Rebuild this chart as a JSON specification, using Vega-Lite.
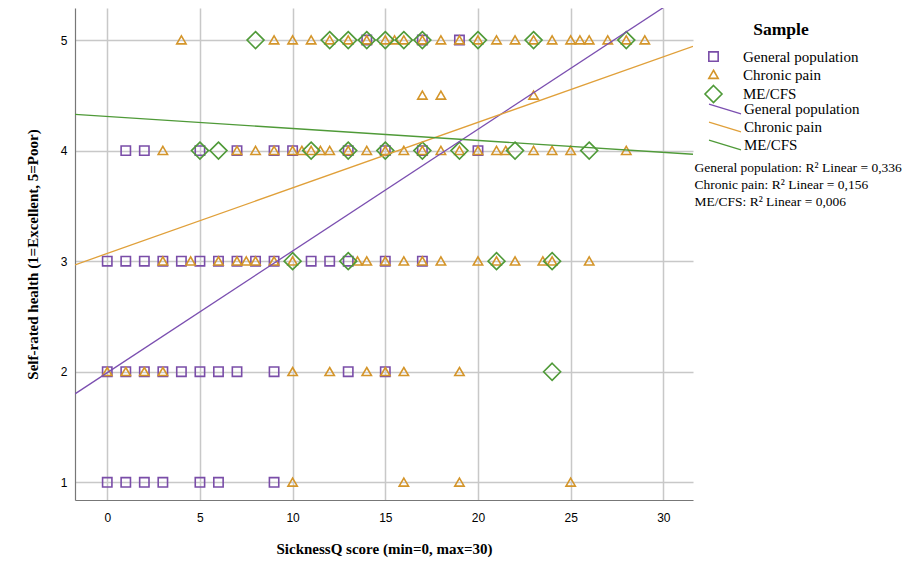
{
  "$schema": "https://vega.github.io/schema/vega-lite/v6.json",
  "width": 618,
  "height": 492,
  "autosize": {"type": "none"},
  "padding": {"left": 75, "top": 8, "right": 219, "bottom": 81},
  "background": "white",
  "config": {
    "view": {"stroke": null},
    "font": "Liberation Serif",
    "axis": {
      "grid": true,
      "gridColor": "#c8c8c8",
      "gridWidth": 1.5,
      "ticks": false,
      "domainColor": "#777777",
      "domainWidth": 1.2,
      "labelFont": "Liberation Sans",
      "labelFontSize": 12,
      "labelColor": "#000000",
      "titleFont": "Liberation Serif",
      "titleFontSize": 15,
      "titleFontWeight": "bold",
      "titleColor": "#000000"
    },
    "legend": {
      "labelFont": "Liberation Serif",
      "labelFontSize": 15,
      "labelColor": "#000000",
      "labelLimit": 300,
      "titleFont": "Liberation Serif",
      "titleFontSize": 17.5,
      "titleFontWeight": "bold",
      "titleColor": "#000000"
    }
  },
  "datasets": {
    "pts": [
      {"sample": "General population", "score": 14, "health": 5},
      {"sample": "General population", "score": 17, "health": 5},
      {"sample": "General population", "score": 19, "health": 5},
      {"sample": "General population", "score": 1, "health": 4},
      {"sample": "General population", "score": 2, "health": 4},
      {"sample": "General population", "score": 5, "health": 4},
      {"sample": "General population", "score": 7, "health": 4},
      {"sample": "General population", "score": 9, "health": 4},
      {"sample": "General population", "score": 10, "health": 4},
      {"sample": "General population", "score": 13, "health": 4},
      {"sample": "General population", "score": 15, "health": 4},
      {"sample": "General population", "score": 17, "health": 4},
      {"sample": "General population", "score": 20, "health": 4},
      {"sample": "General population", "score": 0, "health": 3},
      {"sample": "General population", "score": 1, "health": 3},
      {"sample": "General population", "score": 2, "health": 3},
      {"sample": "General population", "score": 3, "health": 3},
      {"sample": "General population", "score": 4, "health": 3},
      {"sample": "General population", "score": 5, "health": 3},
      {"sample": "General population", "score": 6, "health": 3},
      {"sample": "General population", "score": 7, "health": 3},
      {"sample": "General population", "score": 8, "health": 3},
      {"sample": "General population", "score": 9, "health": 3},
      {"sample": "General population", "score": 11, "health": 3},
      {"sample": "General population", "score": 12, "health": 3},
      {"sample": "General population", "score": 13, "health": 3},
      {"sample": "General population", "score": 15, "health": 3},
      {"sample": "General population", "score": 17, "health": 3},
      {"sample": "General population", "score": 0, "health": 2},
      {"sample": "General population", "score": 1, "health": 2},
      {"sample": "General population", "score": 2, "health": 2},
      {"sample": "General population", "score": 3, "health": 2},
      {"sample": "General population", "score": 4, "health": 2},
      {"sample": "General population", "score": 5, "health": 2},
      {"sample": "General population", "score": 6, "health": 2},
      {"sample": "General population", "score": 7, "health": 2},
      {"sample": "General population", "score": 9, "health": 2},
      {"sample": "General population", "score": 13, "health": 2},
      {"sample": "General population", "score": 15, "health": 2},
      {"sample": "General population", "score": 0, "health": 1},
      {"sample": "General population", "score": 1, "health": 1},
      {"sample": "General population", "score": 2, "health": 1},
      {"sample": "General population", "score": 3, "health": 1},
      {"sample": "General population", "score": 5, "health": 1},
      {"sample": "General population", "score": 6, "health": 1},
      {"sample": "General population", "score": 9, "health": 1},
      {"sample": "Chronic pain", "score": 4, "health": 5},
      {"sample": "Chronic pain", "score": 9, "health": 5},
      {"sample": "Chronic pain", "score": 10, "health": 5},
      {"sample": "Chronic pain", "score": 11, "health": 5},
      {"sample": "Chronic pain", "score": 12, "health": 5},
      {"sample": "Chronic pain", "score": 13, "health": 5},
      {"sample": "Chronic pain", "score": 14, "health": 5},
      {"sample": "Chronic pain", "score": 15, "health": 5},
      {"sample": "Chronic pain", "score": 15.5, "health": 5},
      {"sample": "Chronic pain", "score": 16, "health": 5},
      {"sample": "Chronic pain", "score": 17, "health": 5},
      {"sample": "Chronic pain", "score": 18, "health": 5},
      {"sample": "Chronic pain", "score": 19, "health": 5},
      {"sample": "Chronic pain", "score": 20, "health": 5},
      {"sample": "Chronic pain", "score": 21, "health": 5},
      {"sample": "Chronic pain", "score": 22, "health": 5},
      {"sample": "Chronic pain", "score": 23, "health": 5},
      {"sample": "Chronic pain", "score": 24, "health": 5},
      {"sample": "Chronic pain", "score": 25, "health": 5},
      {"sample": "Chronic pain", "score": 25.5, "health": 5},
      {"sample": "Chronic pain", "score": 26, "health": 5},
      {"sample": "Chronic pain", "score": 27, "health": 5},
      {"sample": "Chronic pain", "score": 28, "health": 5},
      {"sample": "Chronic pain", "score": 29, "health": 5},
      {"sample": "Chronic pain", "score": 17, "health": 4.5},
      {"sample": "Chronic pain", "score": 18, "health": 4.5},
      {"sample": "Chronic pain", "score": 23, "health": 4.5},
      {"sample": "Chronic pain", "score": 3, "health": 4},
      {"sample": "Chronic pain", "score": 7, "health": 4},
      {"sample": "Chronic pain", "score": 8, "health": 4},
      {"sample": "Chronic pain", "score": 9, "health": 4},
      {"sample": "Chronic pain", "score": 10, "health": 4},
      {"sample": "Chronic pain", "score": 10.5, "health": 4},
      {"sample": "Chronic pain", "score": 11, "health": 4},
      {"sample": "Chronic pain", "score": 11.5, "health": 4},
      {"sample": "Chronic pain", "score": 12, "health": 4},
      {"sample": "Chronic pain", "score": 13, "health": 4},
      {"sample": "Chronic pain", "score": 14, "health": 4},
      {"sample": "Chronic pain", "score": 15, "health": 4},
      {"sample": "Chronic pain", "score": 16, "health": 4},
      {"sample": "Chronic pain", "score": 17, "health": 4},
      {"sample": "Chronic pain", "score": 18, "health": 4},
      {"sample": "Chronic pain", "score": 19, "health": 4},
      {"sample": "Chronic pain", "score": 20, "health": 4},
      {"sample": "Chronic pain", "score": 21, "health": 4},
      {"sample": "Chronic pain", "score": 21.5, "health": 4},
      {"sample": "Chronic pain", "score": 23, "health": 4},
      {"sample": "Chronic pain", "score": 24, "health": 4},
      {"sample": "Chronic pain", "score": 25, "health": 4},
      {"sample": "Chronic pain", "score": 28, "health": 4},
      {"sample": "Chronic pain", "score": 3, "health": 3},
      {"sample": "Chronic pain", "score": 4.5, "health": 3},
      {"sample": "Chronic pain", "score": 6, "health": 3},
      {"sample": "Chronic pain", "score": 7, "health": 3},
      {"sample": "Chronic pain", "score": 7.5, "health": 3},
      {"sample": "Chronic pain", "score": 8, "health": 3},
      {"sample": "Chronic pain", "score": 9, "health": 3},
      {"sample": "Chronic pain", "score": 10, "health": 3},
      {"sample": "Chronic pain", "score": 13.5, "health": 3},
      {"sample": "Chronic pain", "score": 14, "health": 3},
      {"sample": "Chronic pain", "score": 15, "health": 3},
      {"sample": "Chronic pain", "score": 16, "health": 3},
      {"sample": "Chronic pain", "score": 17, "health": 3},
      {"sample": "Chronic pain", "score": 18, "health": 3},
      {"sample": "Chronic pain", "score": 20, "health": 3},
      {"sample": "Chronic pain", "score": 21, "health": 3},
      {"sample": "Chronic pain", "score": 22, "health": 3},
      {"sample": "Chronic pain", "score": 23.5, "health": 3},
      {"sample": "Chronic pain", "score": 24, "health": 3},
      {"sample": "Chronic pain", "score": 26, "health": 3},
      {"sample": "Chronic pain", "score": 0, "health": 2},
      {"sample": "Chronic pain", "score": 1, "health": 2},
      {"sample": "Chronic pain", "score": 2, "health": 2},
      {"sample": "Chronic pain", "score": 3, "health": 2},
      {"sample": "Chronic pain", "score": 10, "health": 2},
      {"sample": "Chronic pain", "score": 12, "health": 2},
      {"sample": "Chronic pain", "score": 14, "health": 2},
      {"sample": "Chronic pain", "score": 15, "health": 2},
      {"sample": "Chronic pain", "score": 16, "health": 2},
      {"sample": "Chronic pain", "score": 19, "health": 2},
      {"sample": "Chronic pain", "score": 10, "health": 1},
      {"sample": "Chronic pain", "score": 16, "health": 1},
      {"sample": "Chronic pain", "score": 19, "health": 1},
      {"sample": "Chronic pain", "score": 25, "health": 1},
      {"sample": "ME/CFS", "score": 8, "health": 5},
      {"sample": "ME/CFS", "score": 12, "health": 5},
      {"sample": "ME/CFS", "score": 13, "health": 5},
      {"sample": "ME/CFS", "score": 14, "health": 5},
      {"sample": "ME/CFS", "score": 15, "health": 5},
      {"sample": "ME/CFS", "score": 16, "health": 5},
      {"sample": "ME/CFS", "score": 17, "health": 5},
      {"sample": "ME/CFS", "score": 20, "health": 5},
      {"sample": "ME/CFS", "score": 23, "health": 5},
      {"sample": "ME/CFS", "score": 28, "health": 5},
      {"sample": "ME/CFS", "score": 5, "health": 4},
      {"sample": "ME/CFS", "score": 6, "health": 4},
      {"sample": "ME/CFS", "score": 11, "health": 4},
      {"sample": "ME/CFS", "score": 13, "health": 4},
      {"sample": "ME/CFS", "score": 15, "health": 4},
      {"sample": "ME/CFS", "score": 17, "health": 4},
      {"sample": "ME/CFS", "score": 19, "health": 4},
      {"sample": "ME/CFS", "score": 22, "health": 4},
      {"sample": "ME/CFS", "score": 26, "health": 4},
      {"sample": "ME/CFS", "score": 10, "health": 3},
      {"sample": "ME/CFS", "score": 13, "health": 3},
      {"sample": "ME/CFS", "score": 21, "health": 3},
      {"sample": "ME/CFS", "score": 24, "health": 3},
      {"sample": "ME/CFS", "score": 24, "health": 2}
    ],
    "fit": [
      {"group": "General population", "r2": "General population: R² Linear = 0,336", "score": -1.74, "health": 1.80},
      {"group": "General population", "r2": "General population: R² Linear = 0,336", "score": 31.6, "health": 5.47},
      {"group": "Chronic pain", "r2": "Chronic pain: R² Linear = 0,156", "score": -1.74, "health": 2.967},
      {"group": "Chronic pain", "r2": "Chronic pain: R² Linear = 0,156", "score": 31.6, "health": 4.944},
      {"group": "ME/CFS", "r2": "ME/CFS: R² Linear = 0,006", "score": -1.74, "health": 4.327},
      {"group": "ME/CFS", "r2": "ME/CFS: R² Linear = 0,006", "score": 31.6, "health": 3.967}
    ]
  },
  "encoding": {
    "x": {
      "field": "score",
      "type": "quantitative",
      "scale": {"domain": [-1.74, 31.6], "nice": false, "zero": false},
      "axis": {"values": [0, 5, 10, 15, 20, 25, 30], "title": "SicknessQ score (min=0, max=30)", "labelPadding": 12, "titlePadding": 18}
    },
    "y": {
      "field": "health",
      "type": "quantitative",
      "scale": {"domain": [0.84, 5.29], "nice": false, "zero": false},
      "axis": {"values": [1, 2, 3, 4, 5], "title": "Self-rated health (1=Excellent, 5=Poor)", "labelPadding": 8, "titlePadding": 20}
    }
  },
  "layer": [
    {
      "data": {"name": "pts"},
      "mark": {"type": "point", "filled": false, "strokeWidth": 1.6, "opacity": 1, "size": 289},
      "encoding": {
        "color": {
          "field": "sample",
          "type": "nominal",
          "scale": {"domain": ["General population", "Chronic pain", "ME/CFS"], "range": ["#7a4da8", "#d4952a", "#4f9a38"]},
          "legend": {
            "title": "Sample",
            "orient": "none",
            "legendX": 629,
            "legendY": 13,
            "titleAnchor": "middle",
            "titlePadding": 8.5,
            "symbolSize": 289,
            "symbolStrokeWidth": 1.6,
            "labelOffset": 20,
            "rowPadding": -1.5,
            "padding": 0,
            "encode": {"title": {"update": {"dx": {"value": 14}}}}
          }
        },
        "shape": {
          "field": "sample",
          "type": "nominal",
          "scale": {
            "domain": ["General population", "Chronic pain", "ME/CFS"],
            "range": ["M-0.55,-0.55L0.55,-0.55L0.55,0.55L-0.55,0.55Z", "M0,-0.5L0.55,0.45L-0.55,0.45Z", "M0,-1L1,0L0,1L-1,0Z"]
          },
          "legend": {"title": "Sample"}
        }
      }
    },
    {
      "data": {"name": "fit"},
      "mark": {"type": "line", "strokeWidth": 1.3, "clip": true},
      "encoding": {
        "stroke": {
          "field": "group",
          "type": "nominal",
          "sort": ["General population", "Chronic pain", "ME/CFS"],
          "scale": {"range": ["#7b4fb0", "#e0a03a", "#4f9a38"]},
          "legend": {
            "title": null,
            "orient": "none",
            "legendX": 641,
            "legendY": 92,
            "symbolType": "M-2,-0.6L2,0.6",
            "symbolSize": 256,
            "symbolStrokeWidth": 1.3,
            "labelOffset": 10,
            "rowPadding": 1,
            "padding": 0
          }
        },
        "opacity": {
          "field": "r2",
          "type": "ordinal",
          "sort": ["General population: R² Linear = 0,336", "Chronic pain: R² Linear = 0,156", "ME/CFS: R² Linear = 0,006"],
          "scale": {"range": [1, 1, 1]},
          "legend": {
            "title": null,
            "orient": "none",
            "legendX": 606,
            "legendY": 153,
            "symbolSize": 0,
            "symbolOpacity": 0,
            "symbolStrokeWidth": 0,
            "labelOffset": 0,
            "labelFontSize": 13.5,
            "rowPadding": 2,
            "padding": 0
          }
        }
      }
    }
  ]
}
